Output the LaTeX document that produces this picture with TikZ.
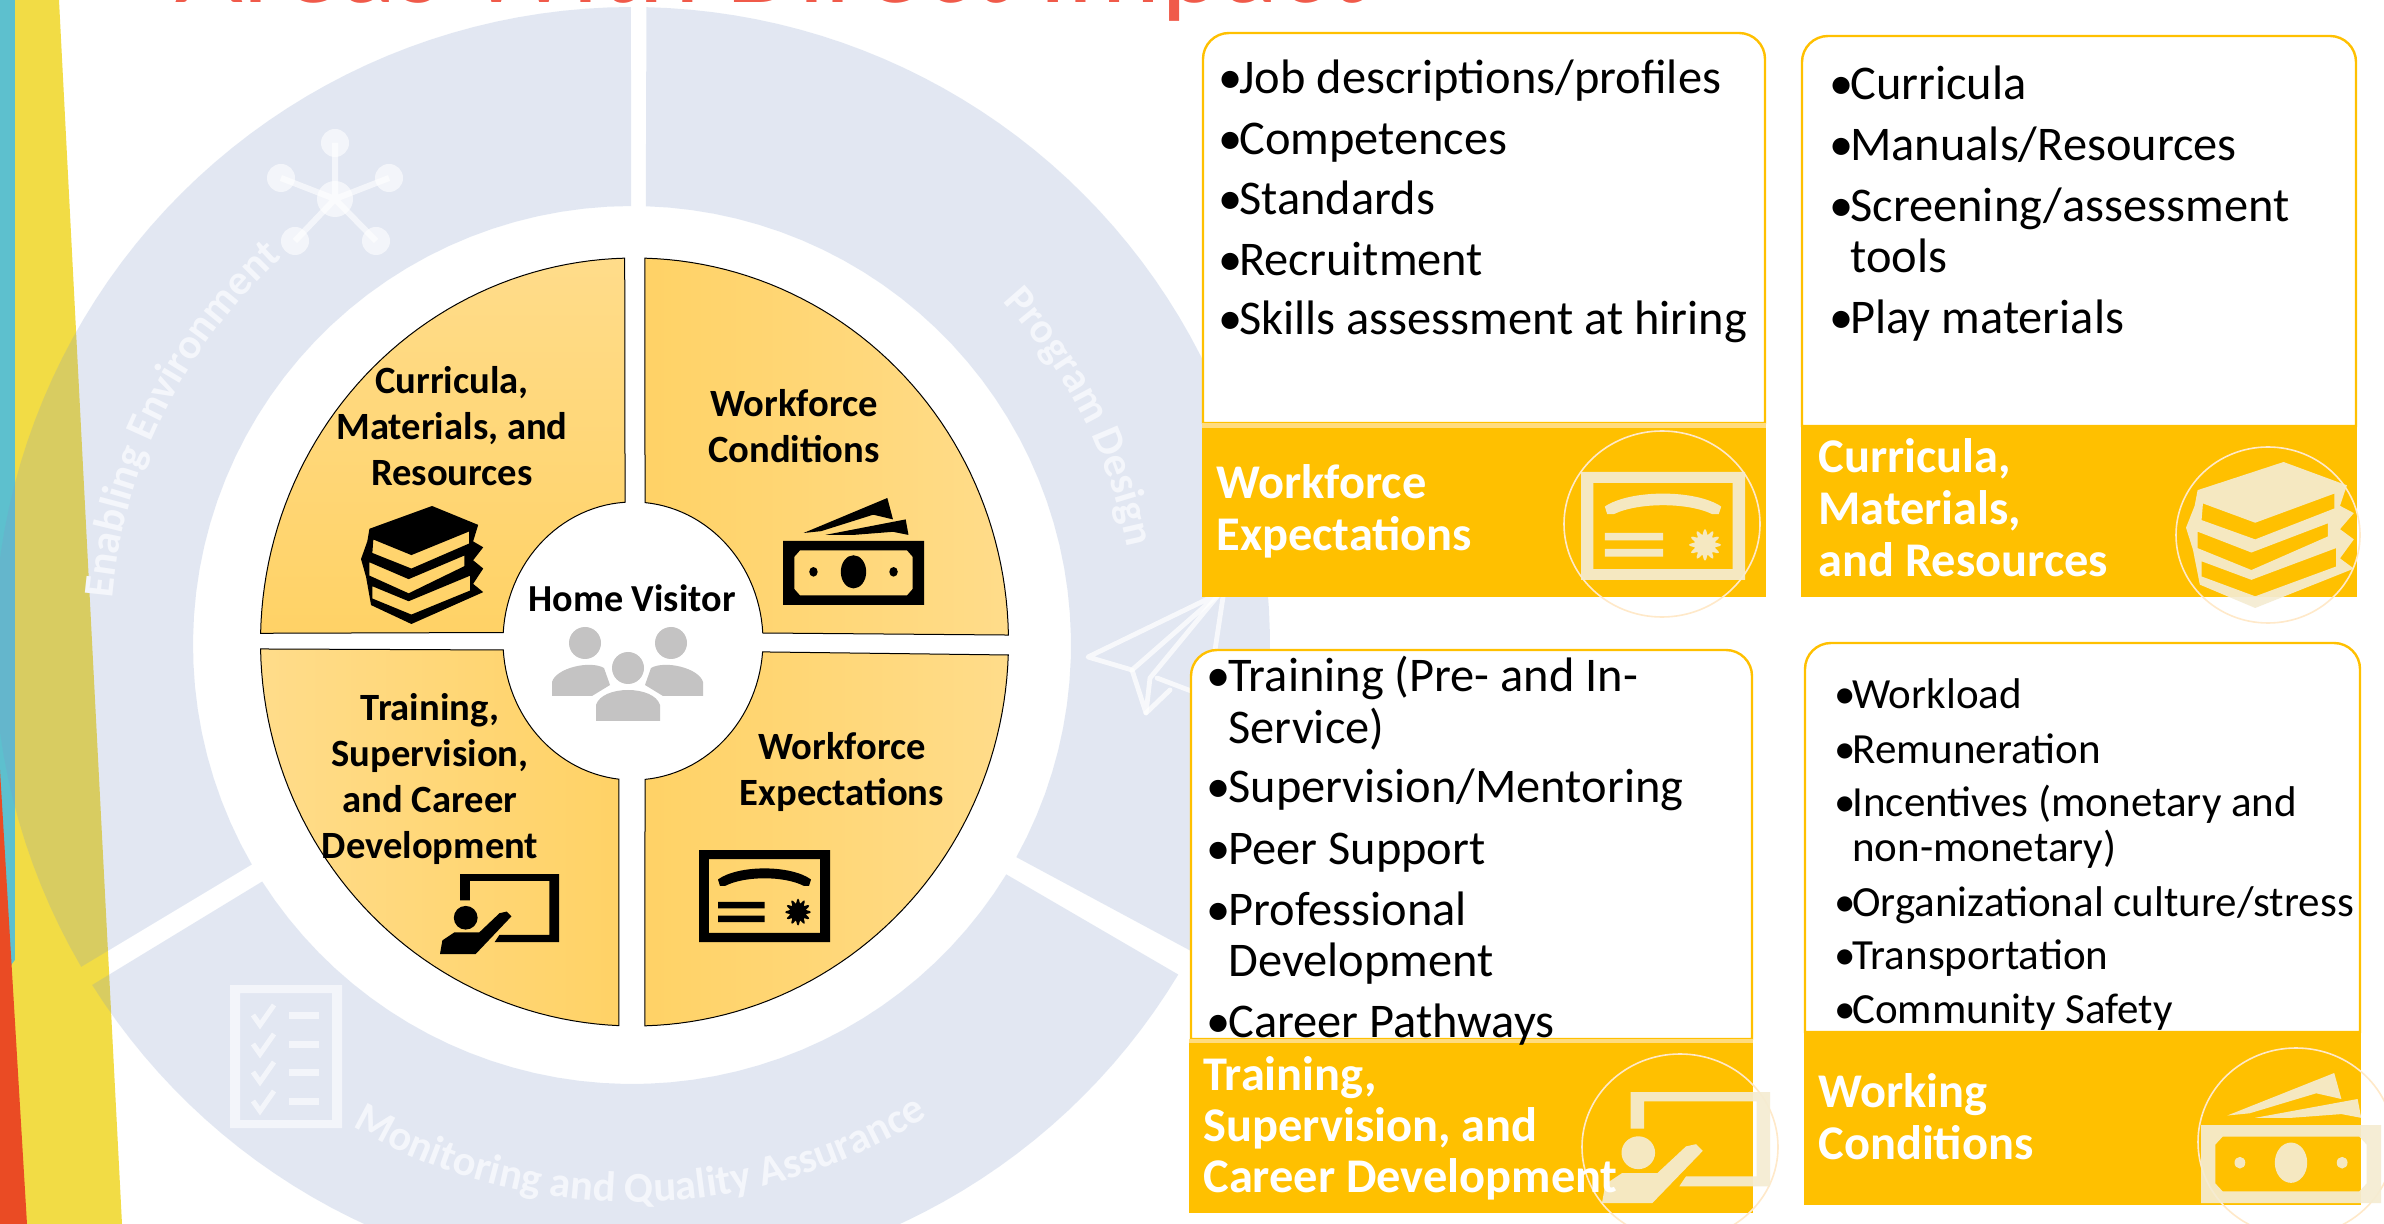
\documentclass[tikz,border=0pt]{standalone}
\usepackage{fontspec}
\setmainfont{Carlito}
\usetikzlibrary{decorations.text}
\definecolor{teal0}{HTML}{5DC0CE}
\definecolor{band}{HTML}{F2DC45}
\definecolor{redband}{HTML}{EA4B24}
\definecolor{ringc}{HTML}{7F96C8}
\definecolor{titlered}{HTML}{F05A4A}
\definecolor{gold}{HTML}{FFC000}
\definecolor{goldlight}{HTML}{FFDC80}
\definecolor{segA}{HTML}{FFDC8A}
\definecolor{segB}{HTML}{FFD266}
\definecolor{cream}{HTML}{F5ECD2}
\definecolor{halo}{HTML}{FFE9C9}
\definecolor{gray0}{HTML}{C4C3C3}
\definecolor{ringtxt}{HTML}{F4F6FB}
\tikzset{
  ringsec/.style={fill=ringc,fill opacity=.22,draw=none},
  segm/.style={draw=black,line width=.5pt},
  seglabel/.style={align=center,font=\fontsize{19.3}{23}\selectfont\bfseries,text=black,inner sep=0pt},
  listtxt/.style={anchor=base west,inner sep=0pt,text=black,font=\fontsize{24.2}{28}\selectfont},
  listsm/.style={anchor=base west,inner sep=0pt,text=black,font=\fontsize{21.5}{25}\selectfont},
  headtxt/.style={anchor=base west,align=left,inner sep=0pt,text=white,font=\fontsize{24.2}{28}\selectfont\bfseries},
  whitebox/.style={fill=white,draw=gold,line width=1.2pt},
  bandbox/.style={fill=gold,draw=none},
  haloring/.style={draw=halo,line width=.8pt},
  ghost/.style={color=white,opacity=.62}
}
\newcommand{\ringfont}{\fontsize{21.3}{25}\selectfont\bfseries\color{ringtxt}}
\newcommand{\seg}[5]{\path[segm,#5]
  plot[domain=#1:#2,samples=50] ({634.5+374*cos(\x)},{642+384*sin(\x)})
  -- plot[domain=#3:#4,samples=30] ({633+130*cos(\x)},{641+139*sin(\x)}) -- cycle;}
\newcommand{\ringsec}[4]{\path[ringsec]
  plot[domain=#1:#2,samples=60] ({632+638*cos(\x)},{645+638*sin(\x)})
  -- plot[domain=#3:#4,samples=40] ({632+439*cos(\x)},{645+439*sin(\x)}) -- cycle;}
\newcommand{\certicon}[5]{\begin{scope}[shift={(#1,#2)},xscale=#3,yscale=#4,#5]
  \fill[even odd rule] (0,0) rectangle (1,1) (.075,.1) rectangle (.925,.9);
  \fill (.145,.32) .. controls (.3,.16) and (.7,.16) .. (.855,.32) -- (.84,.39) -- (.8,.39) .. controls (.65,.28) and (.35,.28) .. (.2,.39) -- (.16,.39) -- cycle;
  \fill (.145,.563) rectangle (.5,.634) (.145,.712) rectangle (.5,.783);
  \fill plot[domain=0:360,samples=73] ({.756+(.08+.018*cos(12*\x))*cos(\x)},{.675+(.12+.026*cos(12*\x))*sin(\x)}) -- cycle;
\end{scope}}
\newcommand{\booksicon}[5]{\begin{scope}[shift={(#1,#2)},xscale=#3,yscale=#4,#5]
  \fill[even odd rule] (.564,0) -- (.93,.16) -- (.89,.3) -- (.97,.35) -- (.89,.46) -- (.97,.53) -- (.89,.66) -- (.97,.73) -- (.4,1) -- (.08,.84) -- (.04,.6) -- (0,.45) -- (.05,.3) -- (.067,.193) -- cycle
  (.098,.284) -- (.4,.416) -- (.858,.216) -- (.858,.318) -- (.4,.53) -- (.09,.398) -- cycle
  (.067,.477) -- (.378,.62) -- (.82,.42) -- (.82,.51) -- (.378,.74) -- (.067,.59) -- cycle
  (.09,.68) -- (.378,.807) -- (.867,.59) -- (.867,.716) -- (.4,.92) -- (.09,.784) -- cycle;
\end{scope}}
\newcommand{\moneyicon}[5]{\begin{scope}[shift={(#1,#2)},xscale=#3,yscale=#4,#5]
  \fill[even odd rule] (0,.4) rectangle (1,1)
   (.12,.49) -- (.88,.49) -- (.92,.55) -- (.92,.85) -- (.88,.91) -- (.12,.91) -- (.08,.85) -- (.08,.55) -- cycle;
  \fill (.5,.69) ellipse (.09 and .155);
  \fill (.216,.69) ellipse (.03 and .045) (.784,.69) ellipse (.03 and .045);
  \fill (.146,.327) -- (.74,0) -- (.78,.2) -- (.64,.156) -- (.27,.31) -- cycle;
  \fill (.3,.345) -- (.87,.2) -- (.89,.345) -- (.78,.316) -- (.5,.345) -- cycle;
\end{scope}}
\newcommand{\teachicon}[5]{\begin{scope}[shift={(#1,#2)},xscale=#3,yscale=#4,#5]
  \fill (.17,.33) -- (.17,0) -- (1,0) -- (1,.85) -- (.46,.85) -- (.5,.76) -- (.92,.76) -- (.92,.085) -- (.25,.085) -- (.25,.33) -- cycle;
  \fill (.216,.547) ellipse (.1 and .148);
  \fill (0,1) -- (.02,.83) -- (.12,.73) -- (.33,.73) -- (.5,.49) -- (.56,.47) -- (.6,.53) -- (.3,1) -- cycle;
\end{scope}}
\begin{document}
\begin{tikzpicture}[x=0.5pt,y=-0.5pt]
\useasboundingbox (0,0) rectangle (2384,1224);
\clip (0,0) rectangle (2384,1224);
\fill[white] (0,0) rectangle (2384,1224);
% left bands
\fill[teal0] (0,0) rectangle (20,1000);
\fill[band] (15,0) -- (59,0) -- (122,1224) -- (0,1224) -- (0,980) -- (15,960) -- cycle;
\fill[redband] (0,770) -- (27,1224) -- (0,1224) -- cycle;
% title
\node[anchor=base west,inner sep=0pt,text=titlered,font=\fontsize{58.5}{66}\selectfont] (title) at (175,3) {Areas With Direct Impact};
% outer ring
\ringsec{149.7}{269.9}{269.9}{150}
\ringsec{271.3}{388.7}{388.9}{271.8}
\ringsec{31.1}{147.8}{147.4}{31.5}
% ring icons
\begin{scope}[ghost]
 \draw[line width=3pt] (335,199) -- (335,143) (335,199) -- (389,178) (335,199) -- (281,178) (335,199) -- (295,241) (335,199) -- (376,241);
 \fill (335,199) circle (18) (335,143) circle (14) (389,178) circle (14) (281,178) circle (14) (295,241) circle (14) (376,241) circle (14);
 \fill[even odd rule] (230,985) rectangle (342,1128) (240,993) rectangle (332,1120);
 \foreach \y in {1015,1044,1072,1101} {
   \fill (289,\y-3) rectangle (319,\y+4);
   \draw[line width=2.5pt] (253,\y) -- (260,\y+10) -- (274,\y-10);
 }
\end{scope}
\begin{scope}[color=white,opacity=.75,line width=2.4pt,line join=round,line cap=round]
 \draw (1220,593) -- (1088,657) -- (1132,670) -- cycle;
 \draw (1132,670) -- (1146,713) -- (1150,678) -- (1220,593);
 \draw (1146,713) -- (1170,690);
 \draw (1157,678) -- (1207,697);
 \draw (1223,597) -- (1215,650);
\end{scope}
% ring labels
\path[decorate,decoration={text along path,text align=center,text={|\ringfont|Enabling Environment}}]
  plot[domain=175:238,samples=60] ({632+522*cos(\x)},{645+522*sin(\x)});
\path[decorate,decoration={text along path,text align=center,text={|\ringfont|Program Design}}]
  plot[domain=303:363,samples=60] ({632+505*cos(\x)},{645+505*sin(\x)});
\path[decorate,decoration={text along path,text align=center,text={|\ringfont|Monitoring and Quality Assurance}}]
  plot[domain=130:48,samples=80] ({632+557*cos(\x)},{645+557*sin(\x)});
% yellow segments
\seg{181.3}{268.5}{266.5}{183.5}{top color=segA,bottom color=segB}
\seg{271.6}{358.96}{356.7}{275.3}{left color=segB,right color=segA}
\seg{1.94}{88.4}{84.7}{4.5}{left color=segB,right color=segA}
\seg{92.4}{178.96}{176.3}{96.2}{right color=segB,left color=segA}
% segment labels
\node[seglabel] (l1) at (452,426) {Curricula,\\Materials, and\\Resources};
\node[seglabel] (l2) at (794,426) {Workforce\\Conditions};
\node[seglabel] (l3) at (430,779) {Training,\\Supervision,\\and Career\\Development};
\node[seglabel] (l4) at (842,772) {Workforce\\Expectations};
\booksicon{361}{506}{126}{118}{color=black}
\moneyicon{783}{498}{141}{107}{color=black}
\teachicon{440}{874}{119}{80}{color=black}
\certicon{699}{850}{131}{92}{color=black}
% centre
\node[anchor=base,inner sep=0pt,text=black,font=\fontsize{19.1}{22}\selectfont\bfseries] (hv) at (632,612) {Home Visitor};
\fill[gray0] (585,643) circle (16) (671,643) circle (16);
\fill[gray0] (552,696) -- (552,682) .. controls (556,668) and (590,660) .. (604,668) -- (610,685) -- (592,696) -- cycle;
\fill[gray0] (703,696) -- (703,682) .. controls (699,668) and (665,660) .. (651,668) -- (645,685) -- (663,696) -- cycle;
\fill[gray0] (628,668) circle (16);
\fill[gray0] (596,721) -- (596,705) .. controls (602,685) and (654,685) .. (660,705) -- (660,721) -- cycle;
% box 1
\path[whitebox] (1203,423) [rounded corners=13pt] -- (1203,33) -- (1765,33) [sharp corners] -- (1765,423) -- cycle;
\fill[goldlight] (1202,423) rectangle (1766,428);
\fill[gold] (1202,428) rectangle (1766,597);
\draw[haloring] (1662,524) ellipse (98 and 93);
\certicon{1581}{472}{164}{108}{color=cream,opacity=.92}
\node[headtxt] (h1) at (1216,499) {Workforce};
\node[headtxt] (h1b) at (1216,551) {Expectations};
\foreach \n/\b/\t in {a/94/Job descriptions\slash profiles,b/155/Competences,c/215/Standards,d/276/Recruitment,e/335/Skills assessment at hiring}{
  \node[listtxt] (w\n) at (1239,\b) {\t};
  \node[listtxt] (wb\n) at (1218,\b) {•};
}
% box 2
\path[whitebox] (1802,426) [rounded corners=13pt] -- (1802,36) -- (2356,36) [sharp corners] -- (2356,426) -- cycle;
\fill[gold] (1801,427) rectangle (2357,597);
\draw[haloring] (2268,535) ellipse (92 and 88);
\booksicon{2186}{462}{173}{146}{color=cream,opacity=.92}
\node[headtxt] (h2) at (1818,473) {Curricula,};
\node[headtxt] (h2b) at (1818,525) {Materials,};
\node[headtxt] (h2c) at (1818,577) {and Resources};
\foreach \n/\b/\t/\q in {a/100/Curricula/1,b/161/Manuals\slash Resources/1,c/222/Screening\slash assessment/1,d/273/tools/0,e/334/Play materials/1}{
  \node[listtxt] (c\n) at (1850,\b) {\t};
  \ifnum\q=1 \node[listtxt] (cb\n) at (1829,\b) {•};\fi
}
% box 3
\path[whitebox] (1191,1039) [rounded corners=13pt] -- (1191,650) -- (1752,650) [sharp corners] -- (1752,1039) -- cycle;
\fill[goldlight] (1189,1039) rectangle (1753,1043);
\fill[gold] (1189,1043) rectangle (1753,1213);
\draw[haloring] (1680,1147) ellipse (98 and 93);
\teachicon{1602}{1092}{168}{111}{color=cream,opacity=.92}
\node[headtxt] (h3) at (1203,1090) {Training,};
\node[headtxt] (h3b) at (1203,1141) {Supervision, and};
\node[headtxt] (h3c) at (1203,1192) {Career Development};
\foreach \n/\b/\t/\q in {a/692/Training (Pre- and In-/1,b/744/Service)/0,c/803/Supervision\slash Mentoring/1,d/864/Peer Support/1,e/925/Professional/1,f/976/Development/0,g/1037/Career Pathways/1}{
  \node[listtxt] (t\n) at (1228,\b) {\t};
  \ifnum\q=1 \node[listtxt] (tb\n) at (1206,\b) {•};\fi
}
% box 4
\path[whitebox] (1805,1032) [rounded corners=13pt] -- (1805,643) -- (2360,643) [sharp corners] -- (2360,1032) -- cycle;
\fill[gold] (1804,1032) rectangle (2361,1205);
\draw[haloring] (2296,1142) ellipse (98 and 94);
\moneyicon{2201}{1073}{180}{130}{color=cream,opacity=.92}
\node[headtxt] (h4) at (1818,1107) {Working};
\node[headtxt] (h4b) at (1818,1159) {Conditions};
\foreach \n/\b/\t/\q in {a/709/Workload/1,b/763/Remuneration/1,c/816/Incentives (monetary and/1,d/861/non-monetary)/0,e/916/Organizational culture\slash stress/1,f/969/Transportation/1,g/1023/Community Safety/1}{
  \node[listsm] (k\n) at (1852,\b) {\t};
  \ifnum\q=1 \node[listsm] (kb\n) at (1834,\b) {•};\fi
}
\end{tikzpicture}
\end{document}
